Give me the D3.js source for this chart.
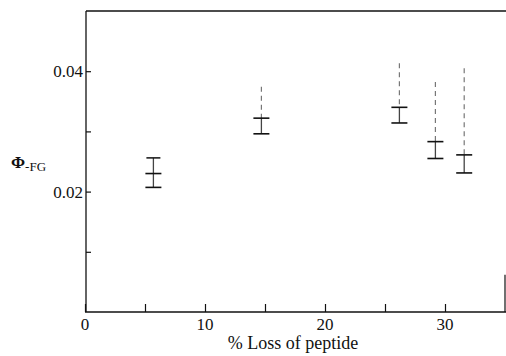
<!DOCTYPE html>
<html><head><meta charset="utf-8">
<script src="https://cdn.jsdelivr.net/npm/d3@7"></script>
<style>body{margin:0;background:#fff}svg{display:block}</style>
</head><body>
<svg id="c" width="506" height="356"></svg>
<script>
const xVals = [5.7, 14.7, 26.2, 29.2, 31.6];
const centerVals = [0.0230, 0.0322, 0.0340, 0.0283, 0.0261];
const lowVals = [0.0207, 0.0296, 0.0314, 0.0255, 0.0231];
const highVals = [0.0256, 0.0374, 0.0413, 0.0382, 0.0405];
const upperCapped = [true, false, false, false, false];
const xTickLabels = [0, 10, 20, 30];
const xMinorTicks = [5, 15, 25];
const yTickLabels = [0.02, 0.04];
const yMinorTicks = [0.01, 0.03];

const svg = d3.select("#c");
const x = d3.scaleLinear().domain([0, 35]).range([85, 505]);
const y = d3.scaleLinear().domain([0, 0.05]).range([312, 11]);
const font = "'Liberation Serif', 'Times New Roman', serif";
const ink = "#111";

// frame lines
svg.append("line").attr("x1", x(0)+1).attr("x2", x(0)+1).attr("y1", y(0.05)).attr("y2", y(0)).attr("stroke", ink).attr("stroke-width", 1.3);
svg.append("line").attr("x1", x(0)).attr("x2", 506).attr("y1", y(0)).attr("y2", y(0)).attr("stroke", ink).attr("stroke-width", 1.3);
svg.append("line").attr("x1", x(0)+1).attr("x2", 506).attr("y1", y(0.05)).attr("y2", y(0.05)).attr("stroke", ink).attr("stroke-width", 1.3);
svg.append("line").attr("x1", x(35)).attr("x2", x(35)).attr("y1", y(0.0062)).attr("y2", y(0)).attr("stroke", ink).attr("stroke-width", 1.2);

// x axis ticks (inward)
const xAxis = d3.axisTop(x).tickValues(xTickLabels.concat(xMinorTicks)).tickSize(8).tickFormat("");
const gx = svg.append("g").attr("transform", `translate(0,${y(0)})`).call(xAxis);
gx.select(".domain").remove();
gx.selectAll("line").attr("stroke", ink).attr("stroke-width", 1.2);
svg.selectAll(".xl").data(xTickLabels).enter().append("text")
  .attr("x", d => x(d)).attr("y", 330).attr("text-anchor", "middle")
  .attr("font-family", font).attr("font-size", 17).attr("fill", ink).text(d => d);

// y axis ticks (inward)
const yAxis = d3.axisRight(y).tickValues(yTickLabels.concat(yMinorTicks)).tickSize(5).tickFormat("");
const gy = svg.append("g").attr("transform", `translate(${x(0)+1},0)`).call(yAxis);
gy.select(".domain").remove();
gy.selectAll("line").attr("stroke", ink).attr("stroke-width", 1.2);
svg.selectAll(".yl").data(yTickLabels).enter().append("text")
  .attr("x", 83).attr("y", d => y(d) + 6).attr("text-anchor", "end")
  .attr("font-family", font).attr("font-size", 17).attr("fill", ink).text(d => d.toFixed(2));

// axis titles
svg.append("text").attr("x", 293).attr("y", 349).attr("text-anchor", "middle")
  .attr("font-family", font).attr("font-size", 18).attr("fill", ink).text("% Loss of peptide");
const t = svg.append("text").attr("x", 11).attr("y", 168).attr("font-family", font).attr("fill", ink);
t.append("tspan").attr("font-size", 17).attr("font-weight", "bold").text("Φ");
t.append("tspan").attr("font-size", 13).attr("dy", 3).text("-FG");

// error bars
const data = xVals.map((v, i) => ({x: v, c: centerVals[i], lo: lowVals[i], hi: highVals[i], cap: upperCapped[i]}));
const g = svg.append("g");
data.forEach(d => {
  const px = x(d.x);
  g.append("line").attr("x1", px).attr("x2", px).attr("y1", y(d.c)).attr("y2", y(d.lo)).attr("stroke", "#444").attr("stroke-width", 1.3);
  if (d.cap) {
    g.append("line").attr("x1", px).attr("x2", px).attr("y1", y(d.hi)).attr("y2", y(d.c)).attr("stroke", "#444").attr("stroke-width", 1.3);
    g.append("line").attr("x1", px-7).attr("x2", px+7).attr("y1", y(d.hi)).attr("y2", y(d.hi)).attr("stroke", ink).attr("stroke-width", 1.5);
  } else {
    g.append("line").attr("x1", px).attr("x2", px).attr("y1", y(d.hi)).attr("y2", y(d.c)).attr("stroke", "#777").attr("stroke-width", 1.2).attr("stroke-dasharray", "5,4");
  }
  g.append("line").attr("x1", px-8).attr("x2", px+8).attr("y1", y(d.c)).attr("y2", y(d.c)).attr("stroke", ink).attr("stroke-width", 1.6);
  g.append("line").attr("x1", px-8).attr("x2", px+8).attr("y1", y(d.lo)).attr("y2", y(d.lo)).attr("stroke", ink).attr("stroke-width", 1.6);
});
</script>
</body></html>
